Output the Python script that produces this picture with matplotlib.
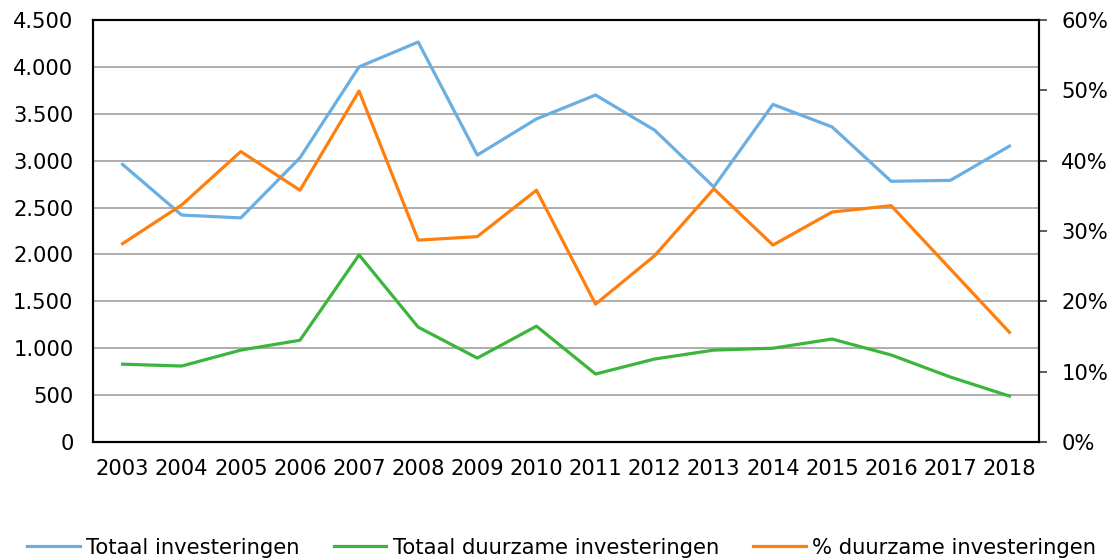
import matplotlib
matplotlib.use("Agg")
import matplotlib.pyplot as plt
from matplotlib.ticker import FuncFormatter

years = [str(y) for y in range(2003, 2019)]
totaal = [2960, 2420, 2390, 3030, 4000, 4265, 3060, 3445, 3700, 3325, 2720, 3600, 3360, 2780, 2790, 3155]
duurzaam = [830, 810, 980, 1085, 1995, 1225, 895, 1235, 725, 885, 980, 1000, 1098, 928, 693, 490]
pct = [28.2, 33.7, 41.3, 35.8, 49.9, 28.7, 29.2, 35.8, 19.6, 26.5, 36.0, 28.0, 32.7, 33.6, 24.6, 15.6]

labels = ["Totaal investeringen", "Totaal duurzame investeringen", "% duurzame investeringen"]
colors = ["#6AAEE2", "#3BB53B", "#FF7F0E"]

plt.rcParams['font.family'] = ['DejaVu Sans']
fs = 15.2

fig = plt.figure(figsize=(11.12, 5.6), dpi=100)
ax = fig.add_axes([93/1112, 1-442/560, (1039-93)/1112, (442-20)/560])
ax2 = ax.twinx()

x = list(range(len(years)))
l1, = ax.plot(x, totaal, color=colors[0], lw=2.3, label=labels[0], zorder=3)
l2, = ax.plot(x, duurzaam, color=colors[1], lw=2.3, label=labels[1], zorder=3)
l3, = ax2.plot(x, pct, color=colors[2], lw=2.3, label=labels[2], zorder=3)

ax.set_xlim(-0.5, len(years) - 0.5)
ax.set_ylim(0, 4500)
ax.set_yticks(range(0, 4501, 500))
ax.yaxis.set_major_formatter(FuncFormatter(lambda v, p: f"{int(v):,}".replace(",", ".")))
ax.set_xticks(x)
ax.set_xticklabels(years)
ax2.set_ylim(0, 60)
ax2.set_yticks(range(0, 61, 10))
ax2.yaxis.set_major_formatter(FuncFormatter(lambda v, p: f"{int(v)}%"))

ax.grid(axis='y', color='#A0A0A0', lw=1.2)
ax.set_axisbelow(True)
for a in (ax, ax2):
    for s in a.spines.values():
        s.set_color('black')
        s.set_linewidth(1.5)
ax.tick_params(axis='y', length=0, pad=14, labelsize=fs)
ax.tick_params(axis='x', length=0, pad=12, labelsize=fs)
ax2.tick_params(axis='y', length=6, width=1.2, direction='out', pad=10, labelsize=fs, color='#404040')
ax.patch.set_visible(False)

fig.legend(handles=[l1, l2, l3], labels=labels, loc='lower center', ncol=3,
           bbox_to_anchor=(0.505, -0.03), frameon=False, fontsize=fs,
           handlelength=2.5, handletextpad=0.3, columnspacing=1.6)

fig.savefig("out.png", dpi=100)
